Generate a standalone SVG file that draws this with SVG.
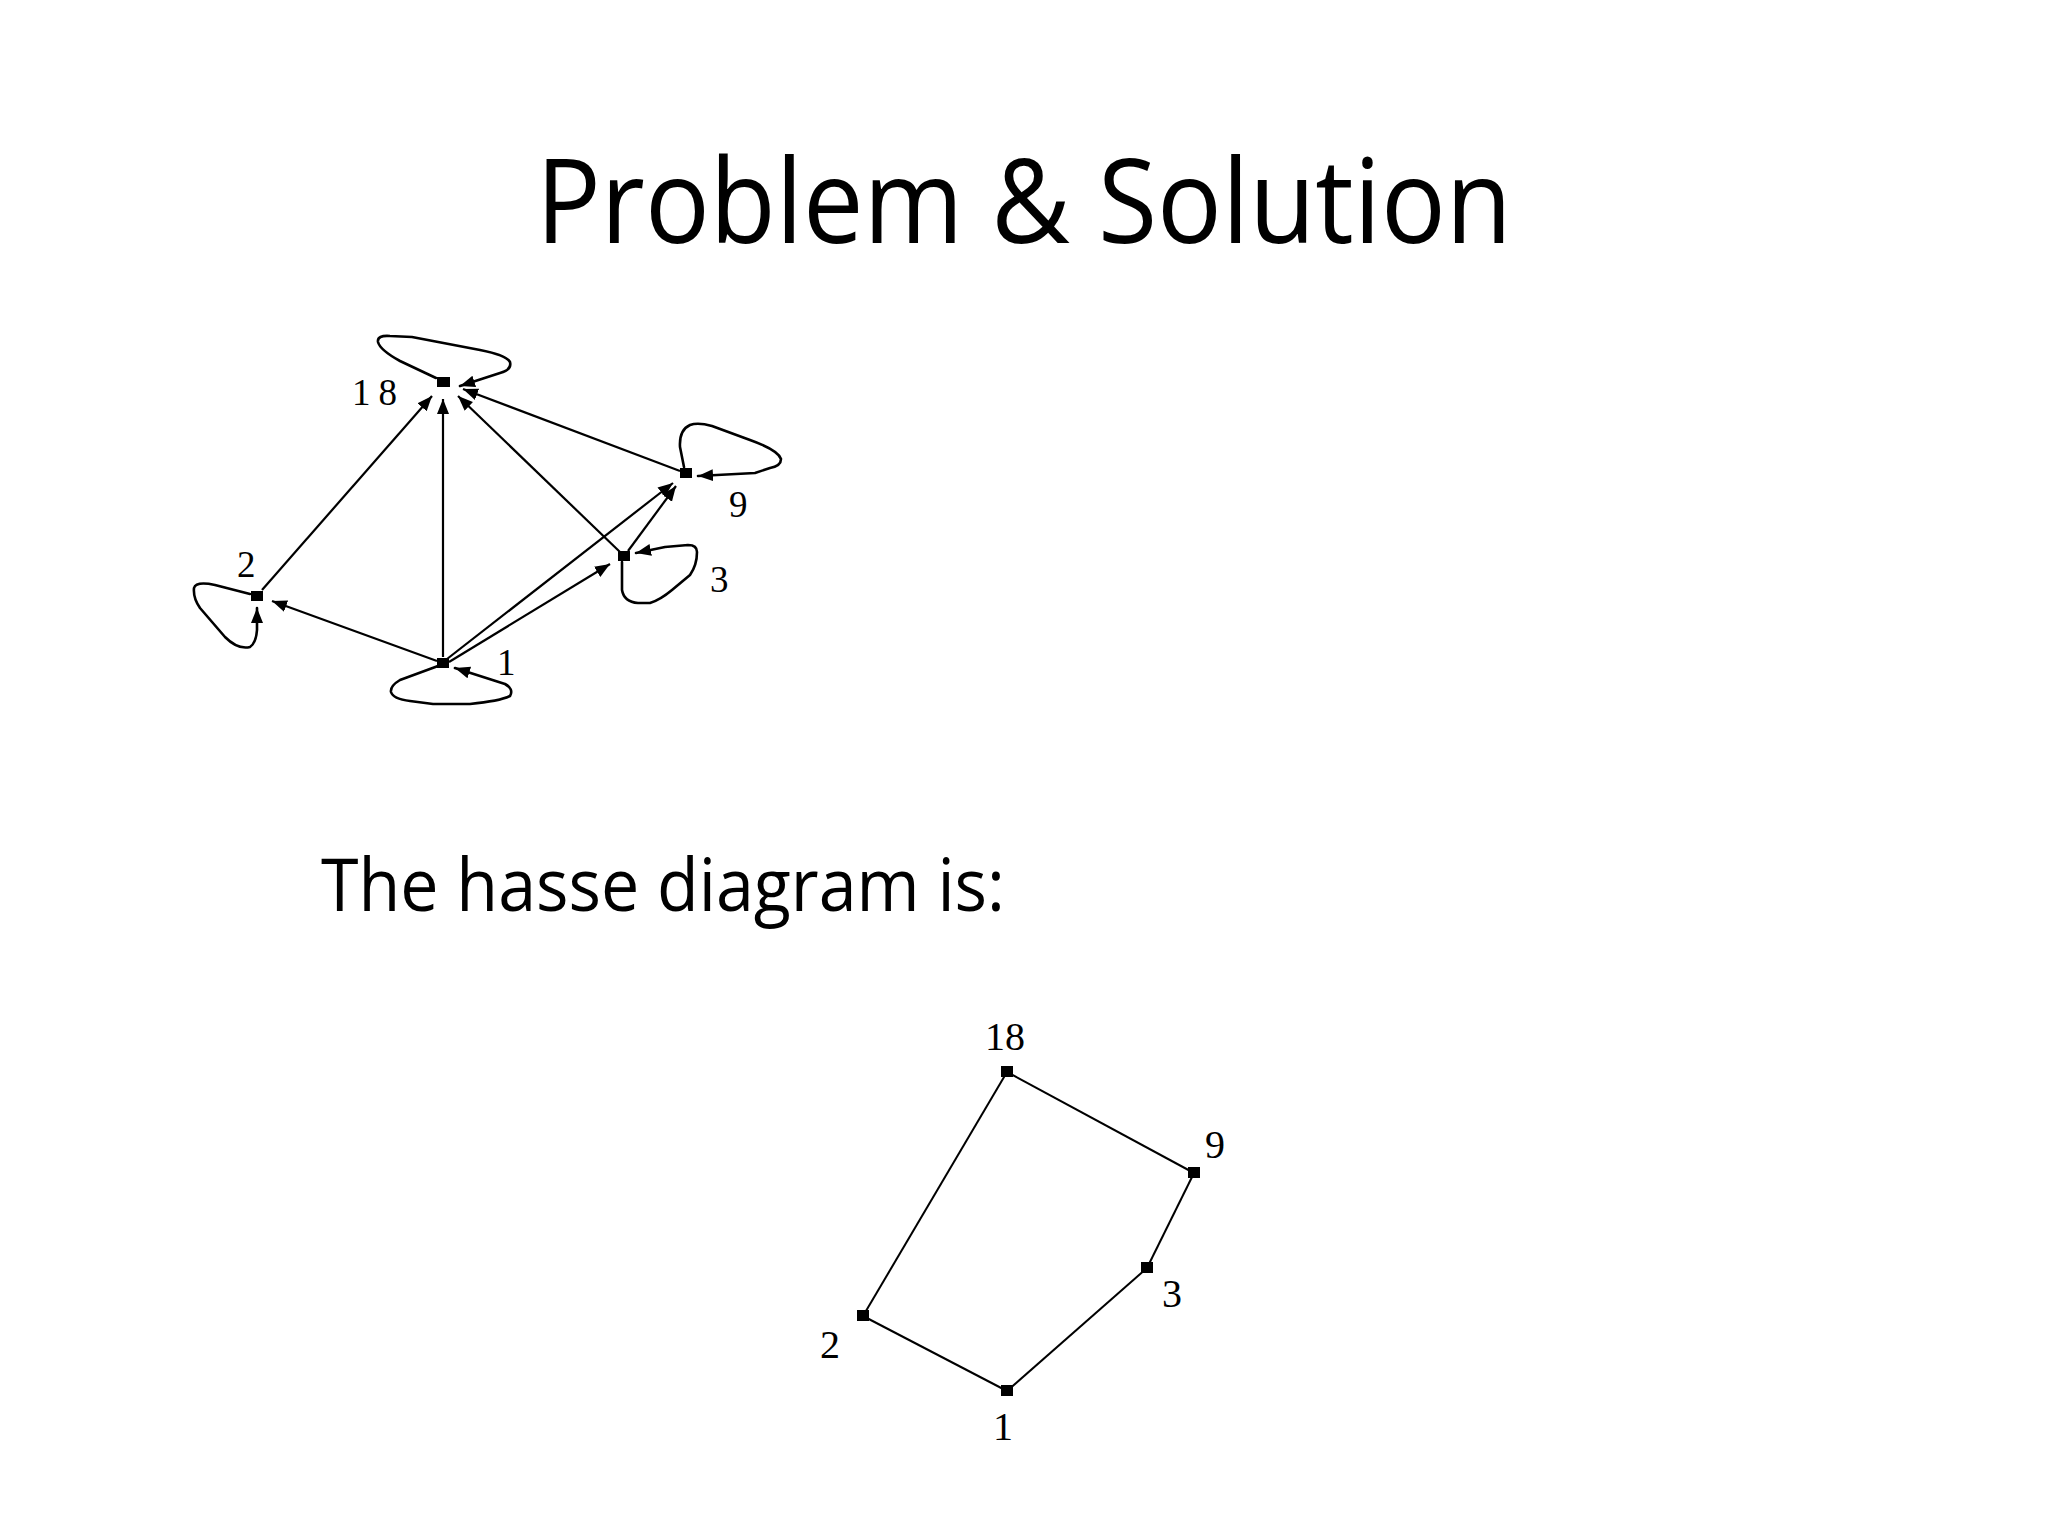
<svg xmlns="http://www.w3.org/2000/svg" width="2048" height="1536" viewBox="0 0 2048 1536">
<defs>
<marker id="arr" markerUnits="userSpaceOnUse" markerWidth="18" markerHeight="14" refX="15" refY="6" orient="auto">
<path d="M0,0 L15,6 L0,12 z" fill="#000"/>
</marker>
<style>
.title{font-family:"Open Sans","Noto Sans",sans-serif;fill:#000}
.lbl{font-family:"Liberation Serif","DejaVu Serif",serif;fill:#000}
.edge{stroke:#000;stroke-width:2;fill:none}
.arrow{stroke:#000;stroke-width:2.2;fill:none;marker-end:url(#arr)}
.loop{stroke:#000;stroke-width:2.6;fill:none;stroke-linejoin:round;stroke-linecap:round;marker-end:url(#arr)}
.node{fill:#000}
</style>
</defs>
<rect x="0" y="0" width="2048" height="1536" fill="#fff"/>
<text class="title" x="536" y="243" font-size="118" textLength="976" lengthAdjust="spacingAndGlyphs">Problem &amp; Solution</text>
<text class="title" x="321" y="911" font-size="74" textLength="684" lengthAdjust="spacingAndGlyphs">The hasse diagram is:</text>

<g id="digraph-connectors">
<line class="arrow" x1="262" y1="590" x2="432" y2="396"/>
<line class="arrow" x1="443" y1="657" x2="443" y2="399"/>
<line class="arrow" x1="620" y1="552" x2="458" y2="396"/>
<line class="arrow" x1="680" y1="471" x2="463" y2="389"/>
<line class="arrow" x1="437" y1="661" x2="272" y2="601"/>
<line class="arrow" x1="447" y1="659" x2="673" y2="483"/>
<line class="arrow" x1="449" y1="662" x2="610" y2="564"/>
<line class="arrow" x1="628" y1="551" x2="676" y2="486"/>
<path class="loop" d="M436,378 L400,361 Q380,350 378,342 Q377,335 390,336 L412,337 L480,350 Q506,355 510,362 Q512,370 500,373 L460,386"/>
<path class="loop" d="M684,467 L680,447 Q679,430 690,425 Q698,422 712,426 L750,440 Q778,450 781,459 Q781,466 770,468 L755,473 L698,476"/>
<path class="loop" d="M622,562 L622,590 Q624,602 638,603 L650,603 Q660,600 672,590 L690,575 Q697,565 697,552 Q697,545 688,545 L665,547 L636,553"/>
<path class="loop" d="M250,594 L215,585 Q196,581 194,588 Q193,598 200,608 L225,637 Q238,650 250,647 Q256,643 257,630 L257,608"/>
<path class="loop" d="M438,666 L400,680 Q390,686 391,692 Q393,699 410,701 L433,704 L470,704 Q500,701 510,696 Q514,689 505,684 L455,668"/>
</g>

<g id="d18"><rect class="node" x="437" y="377" width="13" height="10"/><text class="lbl" x="352" y="405" font-size="37" letter-spacing="8">18</text></g>
<g id="d2"><rect class="node" x="251" y="591" width="12" height="10"/><text class="lbl" x="237" y="577" font-size="37">2</text></g>
<g id="d1"><rect class="node" x="437" y="658" width="12" height="10"/><text class="lbl" x="497" y="675" font-size="37">1</text></g>
<g id="d9"><rect class="node" x="680" y="468" width="12" height="10"/><text class="lbl" x="729" y="517" font-size="37">9</text></g>
<g id="d3"><rect class="node" x="618" y="551" width="12" height="10"/><text class="lbl" x="710" y="592" font-size="37">3</text></g>

<g id="hasse-connectors">
<line class="edge" x1="1007" y1="1072" x2="863" y2="1316"/>
<line class="edge" x1="1007" y1="1072" x2="1194" y2="1173"/>
<line class="edge" x1="1194" y1="1173" x2="1147" y2="1268"/>
<line class="edge" x1="1147" y1="1268" x2="1007" y2="1391"/>
<line class="edge" x1="1007" y1="1391" x2="863" y2="1316"/>
</g>

<g id="h18"><rect class="node" x="1001" y="1066" width="12" height="11"/><text class="lbl" x="985" y="1050" font-size="40">18</text></g>
<g id="h9"><rect class="node" x="1188" y="1167" width="12" height="11"/><text class="lbl" x="1205" y="1158" font-size="40">9</text></g>
<g id="h3"><rect class="node" x="1141" y="1262" width="12" height="11"/><text class="lbl" x="1162" y="1307" font-size="40">3</text></g>
<g id="h2"><rect class="node" x="857" y="1310" width="12" height="11"/><text class="lbl" x="820" y="1358" font-size="40">2</text></g>
<g id="h1"><rect class="node" x="1001" y="1385" width="12" height="11"/><text class="lbl" x="993" y="1440" font-size="40">1</text></g>
</svg>
